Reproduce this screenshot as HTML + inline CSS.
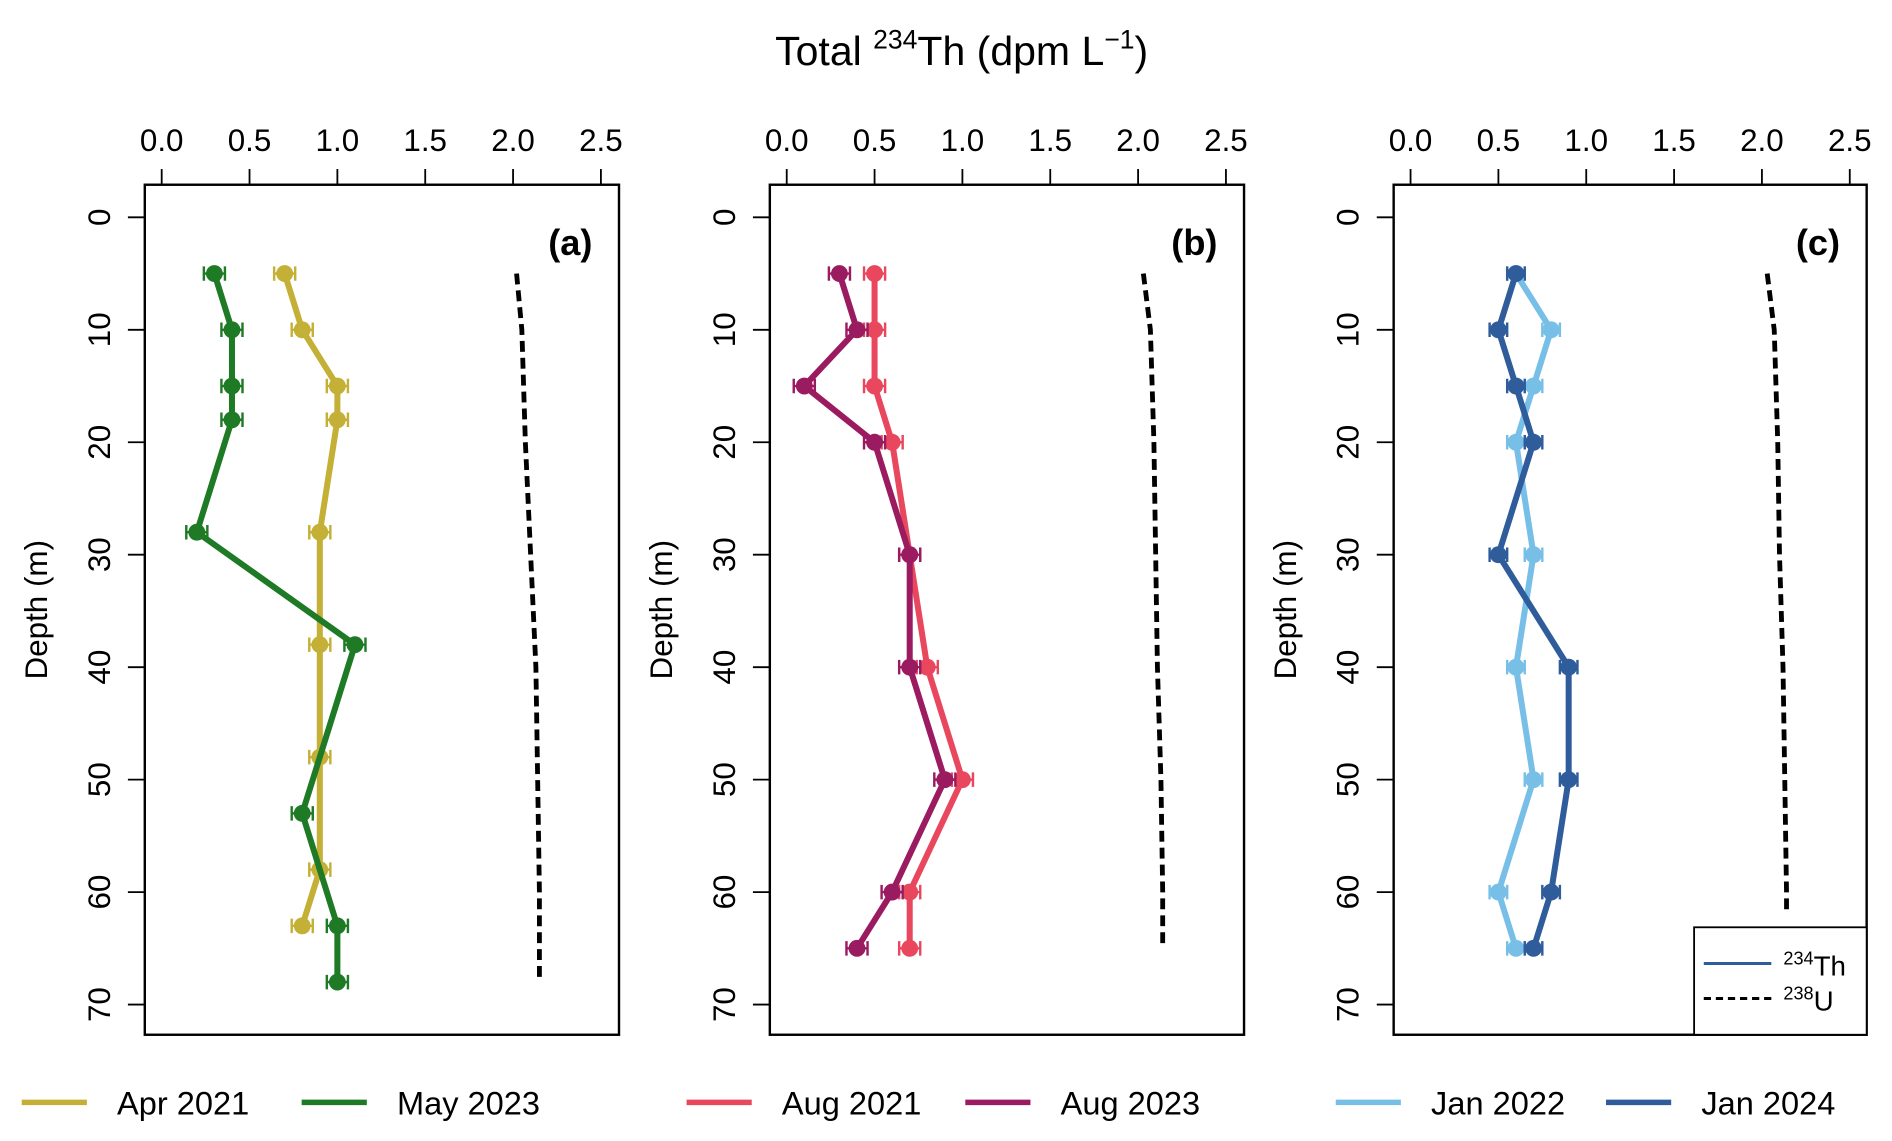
<!DOCTYPE html>
<html><head><meta charset="utf-8"><style>html,body{margin:0;padding:0;background:#fff}svg{display:block}text{font-family:"Liberation Sans",Arial,sans-serif;fill:#000}</style></head>
<body>
<svg id="chart" width="1892" height="1141" viewBox="0 0 1568 945" preserveAspectRatio="none" xmlns="http://www.w3.org/2000/svg">
<text x="797" y="54" font-size="34" text-anchor="middle">Total <tspan font-size="22" dy="-14">234</tspan><tspan dy="14">Th (dpm L</tspan><tspan font-size="22" dy="-14">−1</tspan><tspan dy="14">)</tspan></text>
</svg>
<script>
const xTicks = [0, 0.5, 1.0, 1.5, 2.0, 2.5];
const xTickLabels = ["0.0", "0.5", "1.0", "1.5", "2.0", "2.5"];
const yTicks = [0, 10, 20, 30, 40, 50, 60, 70];
const panelLabels = ["(a)", "(b)", "(c)"];
const seriesNames = ["Apr 2021", "May 2023", "Aug 2021", "Aug 2023", "Jan 2022", "Jan 2024"];
const seriesColors = ["#C4B036", "#1E7A25", "#E8475E", "#9B1B60", "#78BFE8", "#2F5C9A"];
const aprDepth = [5, 10, 15, 18, 28, 38, 48, 58, 63];
const aprValue = [0.7, 0.8, 1.0, 1.0, 0.9, 0.9, 0.9, 0.9, 0.8];
const mayDepth = [5, 10, 15, 18, 28, 38, 53, 63, 68];
const mayValue = [0.3, 0.4, 0.4, 0.4, 0.2, 1.1, 0.8, 1.0, 1.0];
const aug21Depth = [5, 10, 15, 20, 30, 40, 50, 60, 65];
const aug21Value = [0.5, 0.5, 0.5, 0.6, 0.7, 0.8, 1.0, 0.7, 0.7];
const aug23Depth = [5, 10, 15, 20, 30, 40, 50, 60, 65];
const aug23Value = [0.3, 0.4, 0.1, 0.5, 0.7, 0.7, 0.9, 0.6, 0.4];
const jan22Depth = [5, 10, 15, 20, 30, 40, 50, 60, 65];
const jan22Value = [0.6, 0.8, 0.7, 0.6, 0.7, 0.6, 0.7, 0.5, 0.6];
const jan24Depth = [5, 10, 15, 20, 30, 40, 50, 60, 65];
const jan24Value = [0.6, 0.5, 0.6, 0.7, 0.5, 0.9, 0.9, 0.8, 0.7];
const seriesErr = [0.06, 0.06, 0.06, 0.06, 0.05, 0.05];
const uDepthA = [5, 10, 20, 30, 40, 50, 60, 68];
const uValueA = [2.02, 2.05, 2.07, 2.10, 2.13, 2.14, 2.15, 2.15];
const uDepthB = [5, 10, 20, 30, 40, 50, 60, 65];
const uValueB = [2.03, 2.07, 2.09, 2.10, 2.11, 2.13, 2.14, 2.14];
const uDepthC = [5, 10, 20, 30, 40, 50, 60, 62];
const uValueC = [2.03, 2.07, 2.09, 2.10, 2.12, 2.13, 2.14, 2.14];

const NS = "http://www.w3.org/2000/svg";
const svg = document.getElementById("chart");
function mk(tag, attrs, parent) {
  const e = document.createElementNS(NS, tag);
  for (const k in attrs) e.setAttribute(k, attrs[k]);
  (parent || svg).appendChild(e);
  return e;
}
const panels = [
  {left: 120, right: 513, x0: 134, x25: 498, series: [[aprDepth, aprValue, 0], [mayDepth, mayValue, 1]], u: [uDepthA, uValueA]},
  {left: 638, right: 1031, x0: 652, x25: 1016, series: [[aug21Depth, aug21Value, 2], [aug23Depth, aug23Value, 3]], u: [uDepthB, uValueB]},
  {left: 1155, right: 1547, x0: 1169, x25: 1533, series: [[jan22Depth, jan22Value, 4], [jan24Depth, jan24Value, 5]], u: [uDepthC, uValueC]}
];
const plotTop = 153, plotBottom = 857;
const yScale = d => 180 + d * (832 - 180) / 70;

panels.forEach((p, pi) => {
  const xScale = v => p.x0 + v * (p.x25 - p.x0) / 2.5;
  const g = mk("g", {});
  
  
  const box = mk("rect", {x: p.left, y: plotTop, width: p.right - p.left, height: plotBottom - plotTop, fill: "none", stroke: "#000", "stroke-width": 2}, g);
  
  
  xTicks.forEach((t, i) => {
    const x = xScale(t);
    mk("line", {x1: x, x2: x, y1: 140, y2: plotTop, stroke: "#000", "stroke-width": 1.5}, g);
    const tl = mk("text", {x: x, y: 125, "font-size": 26, "text-anchor": "middle"}, g);
    tl.textContent = xTickLabels[i];
    
    
  });
  yTicks.forEach(t => {
    const y = yScale(t);
    mk("line", {x1: p.left - 14, x2: p.left, y1: y, y2: y, stroke: "#000", "stroke-width": 1.5}, g);
    const tl = mk("text", {x: 0, y: 0, "font-size": 26, "text-anchor": "middle", transform: `translate(${p.left - 29},${y}) rotate(-90)`}, g);
    tl.textContent = t;
    
    
  });
  const yl = mk("text", {x: 0, y: 0, "font-size": 26, "text-anchor": "middle", transform: `translate(${p.left - 81},505) rotate(-90)`}, g);
  yl.textContent = "Depth (m)";
  
  
  const pl = mk("text", {x: p.right - 22, y: 211, "font-size": 30, "font-weight": "bold", "text-anchor": "end"}, g);
  pl.textContent = panelLabels[pi];
  
  
  const up = p.u[0].map((d, i) => xScale(p.u[1][i]) + "," + yScale(d)).join(" ");
  const ul = mk("polyline", {points: up, fill: "none", stroke: "#000", "stroke-width": 4, "stroke-dasharray": "9,5"}, g);
  
  
  p.series.forEach(([dep, val, si]) => {
    const col = seriesColors[si], err = seriesErr[si];
    const sg = mk("g", {}, g);
    
    
    mk("polyline", {points: dep.map((d, i) => xScale(val[i]) + "," + yScale(d)).join(" "), fill: "none", stroke: col, "stroke-width": 5, "stroke-linejoin": "round"}, sg);
    dep.forEach((d, i) => {
      const x = xScale(val[i]), y = yScale(d), x1 = xScale(val[i] - err), x2 = xScale(val[i] + err);
      mk("path", {d: `M${x1},${y}H${x2}M${x1},${y - 6}V${y + 6}M${x2},${y - 6}V${y + 6}`, stroke: col, "stroke-width": 2, fill: "none"}, sg);
      const c = mk("circle", {cx: x, cy: y, r: 7, fill: col}, sg);
      
      
    });
  });
});
const lg = mk("g", {});


mk("rect", {x: 1404, y: 768, width: 143, height: 89, fill: "#fff", stroke: "#000", "stroke-width": 1.5}, lg);
mk("line", {x1: 1412, x2: 1468, y1: 798, y2: 798, stroke: "#2F5C9A", "stroke-width": 2.5}, lg);
mk("line", {x1: 1412, x2: 1468, y1: 827, y2: 827, stroke: "#000", "stroke-width": 2.5, "stroke-dasharray": "6,4"}, lg);
const t1 = mk("text", {x: 1478, y: 808, "font-size": 23}, lg);
const t1a = mk("tspan", {"font-size": 15, dy: -9}, t1); t1a.textContent = "234";
const t1b = mk("tspan", {dy: 9}, t1); t1b.textContent = "Th";


const t2 = mk("text", {x: 1478, y: 837, "font-size": 23}, lg);
const t2a = mk("tspan", {"font-size": 15, dy: -9}, t2); t2a.textContent = "238";
const t2b = mk("tspan", {dy: 9}, t2); t2b.textContent = "U";


const legX = [18, 250, 569, 800, 1107, 1331];
seriesNames.forEach((n, i) => {
  const eg = mk("g", {});
  
  
  mk("line", {x1: legX[i], x2: legX[i] + 54, y1: 913, y2: 913, stroke: seriesColors[i], "stroke-width": 4.5}, eg);
  const t = mk("text", {x: legX[i] + 79, y: 923, "font-size": 27}, eg);
  t.textContent = n;
});
</script>
</body></html>
